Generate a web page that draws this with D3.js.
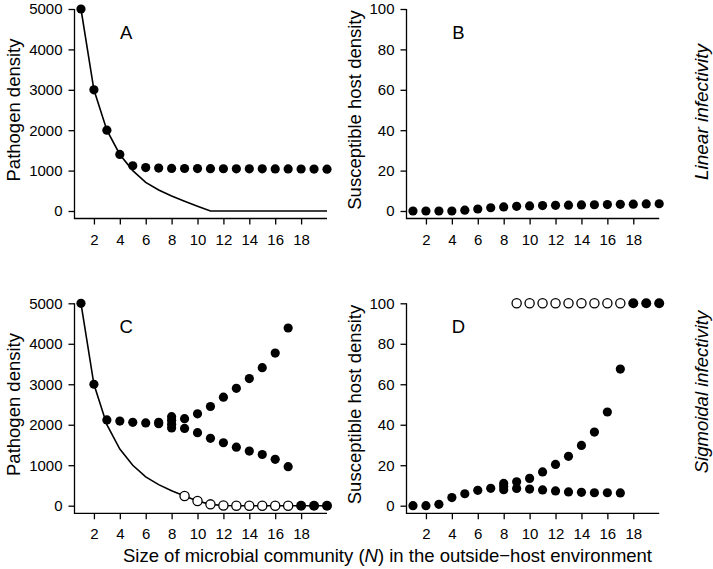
<!DOCTYPE html>
<html>
<head>
<meta charset="utf-8">
<script src="https://cdn.jsdelivr.net/npm/d3@7"></script>
<style>
  body { margin: 0; background: #fff; }
  svg { display: block; }
  text { font-family: "Liberation Sans", Arial, Helvetica, sans-serif; fill: #000; }
</style>
</head>
<body>
<script>
// ---------- data ----------
const N = [1,2,3,4,5,6,7,8,9,10,11,12,13,14,15,16,17,18,19,20];
const xTicks = [2,4,6,8,10,12,14,16,18];
const pathogenTicks = [0,1000,2000,3000,4000,5000];
const hostTicks = [0,20,40,60,80,100];

// Panel A (linear infectivity, pathogen)
const A_dots = [5000,3000,2000,1400,1120,1075,1062,1055,1052,1050,1048,1046,1045,1044,1043,1042,1041,1040,1038,1036];
const A_line = [5000,3000,2000,1400,1000,710,520,370,240,115,0,0,0,0,0,0,0,0,0,0];

// Panel B (linear infectivity, susceptible host)
const B_dots = [0,0,0,0,0.4,1.0,1.6,2.0,2.3,2.5,2.7,2.8,2.9,3.0,3.1,3.2,3.3,3.4,3.5,3.6];

// Panel C (sigmoidal infectivity, pathogen)
const C_upperN = [1,2,3,4,5,6,7,8,9,10,11,12,13,14,15,16,17];
const C_upper  = [5000,3000,2120,2090,2060,2045,2060,2200,2150,2270,2450,2680,2900,3140,3410,3770,4390];
const C_lowerN = [7,8,9,10,11,12,13,14,15,16,17];
const C_lower  = [2025,1920,1910,1805,1665,1555,1445,1350,1265,1145,965];
const C_extraN = [8,8];
const C_extra  = [2110,2010];
const C_zeroN  = [18,19,20];
const C_zero   = [0,0,0];
const C_openN  = [9,10,11,12,13,14,15,16,17];
const C_open   = [240,116,33,5,0,0,0,0,0];
const C_line   = [5000,3000,2000,1400,1000,710,520,370,240,116,33,5,0,0,0,0,0,0,0,0];

// Panel D (sigmoidal infectivity, susceptible host)
const D_upperN = [1,2,3,4,5,6,7,8,9,10,11,12,13,14,15,16,17];
const D_upper  = [0,0,0.7,4.0,5.9,7.6,8.6,11.0,11.8,13.5,16.7,20.4,24.4,29.8,36.4,46.3,67.5];
const D_lowerN = [8,9,10,11,12,13,14,15,16,17];
const D_lower  = [7.9,8.5,8.2,7.8,7.3,6.8,6.6,6.4,6.4,6.3];
const D_extraN = [8];
const D_extra  = [9.5];
const D_openN  = [9,10,11,12,13,14,15,16,17];
const D_open   = [100,100,100,100,100,100,100,100,100];
const D_fullN  = [18,19,20];
const D_full   = [100,100,100];

// ---------- layout ----------
const W = 713, H = 569;
const svg = d3.select("body").append("svg").attr("width", W).attr("height", H);

const R = 4.6;
const titleSize = 18.5, tickSize = 15;

function panel(opt) {
  const x = d3.scaleLinear().domain([0.5, 20]).range(opt.xr);
  const y = d3.scaleLinear().domain([0, opt.ymax]).range(opt.yr);
  const g = svg.append("g");

  // L-shaped frame
  g.append("path")
    .attr("d", `M${opt.xr[0]},${y(opt.ymax)}L${opt.xr[0]},${opt.axisY}L${x(20)},${opt.axisY}`)
    .attr("fill", "none").attr("stroke", "#000").attr("stroke-width", 1.3);

  const ya = g.append("g").attr("transform", `translate(${opt.xr[0]},0)`)
    .call(d3.axisLeft(y).tickValues(opt.yticks).tickSize(6).tickPadding(6).tickFormat(d3.format("d")));
  const xa = g.append("g").attr("transform", `translate(0,${opt.axisY})`)
    .call(d3.axisBottom(x).tickValues(xTicks).tickSize(6).tickPadding(9.5).tickFormat(d3.format("d")));
  [ya, xa].forEach(a => {
    a.select(".domain").remove();
    a.selectAll(".tick line").attr("stroke", "#000").attr("stroke-width", 1.3);
    a.selectAll(".tick text").attr("font-size", tickSize)
      .attr("font-family", '"Liberation Sans", Arial, Helvetica, sans-serif').attr("fill", "#000");
  });

  // y title
  g.append("text")
    .attr("transform", `translate(${opt.titleX},${(y(0) + y(opt.ymax)) / 2}) rotate(-90)`)
    .attr("text-anchor", "middle").attr("dominant-baseline", "central")
    .attr("font-size", titleSize).text(opt.ytitle);

  // panel letter
  g.append("text")
    .attr("x", x(4.5)).attr("y", y(opt.ymax * 0.885))
    .attr("text-anchor", "middle").attr("dominant-baseline", "central")
    .attr("font-size", titleSize).text(opt.letter);

  return { g, x, y };
}

function dots(p, xs, ys, filled, r) {
  p.g.append("g").selectAll("circle").data(xs.map((d, i) => [d, ys[i]])).join("circle")
    .attr("cx", d => p.x(d[0])).attr("cy", d => p.y(d[1])).attr("r", r || R)
    .attr("fill", filled ? "#000" : "#fff")
    .attr("stroke", "#000").attr("stroke-width", filled ? 0 : 1.3);
}

function curve(p, ys) {
  const line = d3.line().x((d, i) => p.x(N[i])).y(d => p.y(d));
  p.g.append("path").attr("d", line(ys)).attr("fill", "none")
    .attr("stroke", "#000").attr("stroke-width", 1.6);
}

const leftX = [74.5, 327], rightX = [406.5, 659.2];
const topY = [211, 9], botY = [505.7, 303.3];

const pA = panel({ xr: leftX, yr: topY, axisY: 218.5, ymax: 5000, yticks: pathogenTicks, ytitle: "Pathogen density", titleX: 13, letter: "A" });
curve(pA, A_line);
dots(pA, N, A_dots, true);

const pB = panel({ xr: rightX, yr: topY, axisY: 218.5, ymax: 100, yticks: hostTicks, ytitle: "Susceptible host density", titleX: 354, letter: "B" });
dots(pB, N, B_dots, true);

const pC = panel({ xr: leftX, yr: botY, axisY: 513.3, ymax: 5000, yticks: pathogenTicks, ytitle: "Pathogen density", titleX: 13, letter: "C" });
curve(pC, C_line);
dots(pC, C_openN, C_open, false);
dots(pC, C_upperN, C_upper, true);
dots(pC, C_lowerN, C_lower, true);
dots(pC, C_extraN, C_extra, true);
dots(pC, C_zeroN, C_zero, true, 5);

const pD = panel({ xr: rightX, yr: botY, axisY: 513.3, ymax: 100, yticks: hostTicks, ytitle: "Susceptible host density", titleX: 354, letter: "D" });
dots(pD, D_openN, D_open, false);
dots(pD, D_fullN, D_full, true, 5);
dots(pD, D_upperN, D_upper, true);
dots(pD, D_lowerN, D_lower, true);
dots(pD, D_extraN, D_extra, true);

// right-side row labels
svg.append("text").attr("transform", "translate(701,112) rotate(-90)")
  .attr("text-anchor", "middle").attr("dominant-baseline", "central")
  .attr("font-size", 19).attr("font-style", "italic").text("Linear infectivity");
svg.append("text").attr("transform", "translate(701,392) rotate(-90)")
  .attr("text-anchor", "middle").attr("dominant-baseline", "central")
  .attr("font-size", 18.5).attr("font-style", "italic").text("Sigmoidal infectivity");

// x-axis title
const xt = svg.append("text").attr("x", 387.5).attr("y", 555)
  .attr("text-anchor", "middle").attr("dominant-baseline", "central")
  .attr("font-size", titleSize);
xt.append("tspan").text("Size of microbial community (");
xt.append("tspan").attr("font-style", "italic").text("N");
xt.append("tspan").text(") in the outside\u2212host environment");
</script>
</body>
</html>
